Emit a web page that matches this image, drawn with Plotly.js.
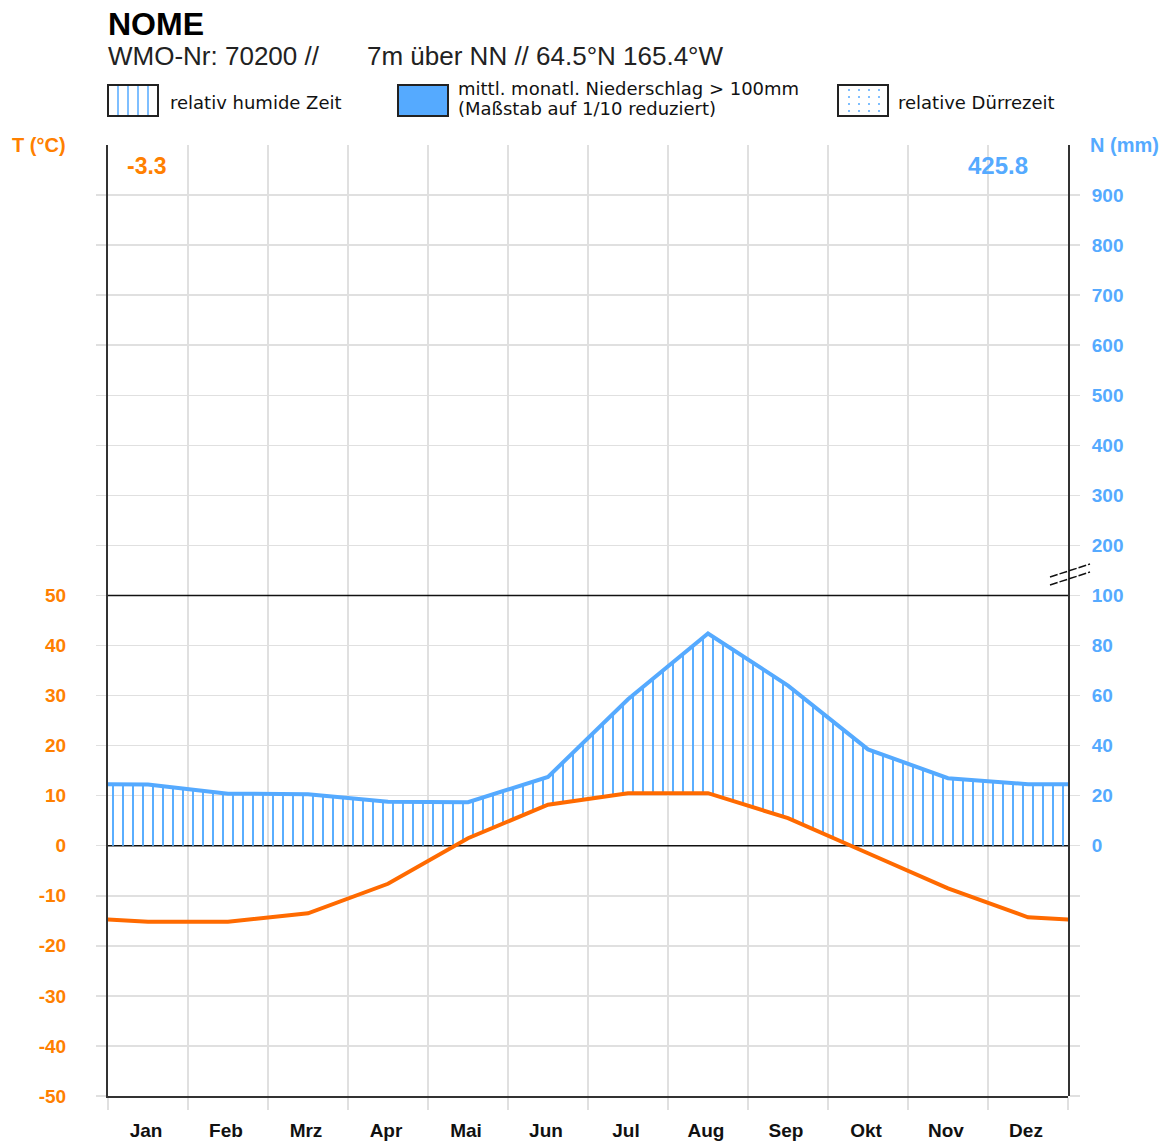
<!DOCTYPE html>
<html><head><meta charset="utf-8">
<script src="https://cdn.plot.ly/plotly-3.0.1.min.js"></script>
<style>html,body{margin:0;padding:0;background:#fff;} #chart{width:1173px;height:1144px;}</style>
</head><body><div id="chart"></div>
<script>
// ---------- data ----------
const months = ['Jan','Feb','Mrz','Apr','Mai','Jun','Jul','Aug','Sep','Okt','Nov','Dez'];
const monthPos = [1,2,3,4,5,6,7,8,9,10,11,12];
const temperature = [-15.2,-15.2,-13.5,-7.6,1.5,8.2,10.5,10.5,5.5,-1.5,-8.5,-14.3];   // °C
const precipitation = [24.5,20.8,20.6,17.6,17.4,27.5,58.5,84.8,64.0,38.5,27.0,24.6]; // mm
const tempTickVals = [-50,-40,-30,-20,-10,0,10,20,30,40,50];
const tempTickText = ['-50','-40','-30','-20','-10','0','10','20','30','40','50'];
const precipTickVals = [0,20,40,60,80,100,120,140,160,180,200,220,240,260];
const precipTickText = ['0','20','40','60','80','100','200','300','400','500','600','700','800','900'];
const meanTempText = '-3.3';
const annualPrecipText = '425.8';
const stationTitle = 'NOME';
const stationInfo1 = 'WMO-Nr: 70200 //';
const stationInfo2 = '7m über NN // 64.5°N 165.4°W';

// ---------- styling ----------
const ORANGE_LINE = '#FF6A00', ORANGE_TXT = '#FF8000';
const BLUE = '#55AAFF', GRID = '#E0E0E0', AXIS = '#333333';
const W = 1173, H = 1144, L = 108, R = 1068, TOP = 145, BOT = 1096;
const TMIN = -50, TMAX = 140;          // temperature display range
const MM_PER_DEG = 2;                  // Walter-Lieth ratio 10°C : 20mm
const px = x => (x - L) / (R - L);
const py = y => (BOT - y) / (BOT - TOP);

// circular wrap so the curves run to the plot edges
const xWrap = [monthPos[0] - 1, ...monthPos, monthPos[11] + 1];
const tWrap = [temperature[11], ...temperature, temperature[0]];
const pWrap = [precipitation[11], ...precipitation, precipitation[0]];

// grid helper values (layout only)
const gridT = []; for (let v = TMIN; v < TMAX; v += 10) gridT.push(v);
const leftText = gridT.map(v => { const i = tempTickVals.indexOf(v); return i >= 0 ? tempTickText[i] : ''; });
const gridP = []; for (let v = TMIN * MM_PER_DEG; v < TMAX * MM_PER_DEG; v += 20) gridP.push(v);
const rightText = gridP.map(v => { const i = precipTickVals.indexOf(v); return i >= 0 ? precipTickText[i] : ''; });
const bounds = [...monthPos.map(m => m - 0.5), monthPos[11] + 0.5];
const boundText = [...months, ''];

const traces = [
  // anchor trace for the grid subplot
  {x: [], y: [], xaxis: 'x', yaxis: 'y', mode: 'lines', showlegend: false, hoverinfo: 'skip'},
  // hatch: lower bound (temperature in mm-equivalent)
  {x: xWrap, y: tWrap.map(t => t * MM_PER_DEG), xaxis: 'x2', yaxis: 'y2', mode: 'lines',
   line: {width: 0}, showlegend: false, hoverinfo: 'skip'},
  // hatch: upper bound (precipitation) with vertical line pattern
  {x: xWrap, y: pWrap, xaxis: 'x2', yaxis: 'y2', mode: 'lines', line: {width: 0},
   fill: 'tonexty', fillcolor: 'rgba(0,0,0,0)',
   fillpattern: {shape: '|', size: 10, solidity: 0.2, fgcolor: '#5AAEFF', fgopacity: 1, fillmode: 'replace'},
   showlegend: false, hoverinfo: 'skip'},
  // temperature curve
  {x: xWrap, y: tWrap, xaxis: 'x2', yaxis: 'y3', mode: 'lines',
   line: {color: ORANGE_LINE, width: 4}, showlegend: false},
  // precipitation curve
  {x: xWrap, y: pWrap, xaxis: 'x2', yaxis: 'y4', mode: 'lines',
   line: {color: BLUE, width: 4}, showlegend: false}
];

const tickFont = (c) => ({family: 'Liberation Sans, Arial, sans-serif', size: 19, color: c, weight: 'bold'});

const layout = {
  width: W, height: H,
  margin: {l: L, r: W - R, t: TOP, b: H - BOT, pad: 0},
  paper_bgcolor: '#ffffff', plot_bgcolor: 'rgba(0,0,0,0)',
  showlegend: false,
  xaxis: {domain: [0, 1], range: [bounds[0], bounds[12]], anchor: 'y',
    tickmode: 'array', tickvals: bounds, ticktext: boundText, ticklabelshift: 38,
    ticks: 'outside', ticklen: 12, tickcolor: GRID, tickwidth: 1.5, ticklabelstandoff: 4,
    showgrid: true, gridcolor: GRID, gridwidth: 1.5, zeroline: false,
    showline: true, linecolor: AXIS, linewidth: 2,
    tickfont: {family: 'Liberation Sans, Arial, sans-serif', size: 19, color: '#111', weight: 'bold'}},
  xaxis2: {domain: [0, 1], range: [bounds[0], bounds[12]], anchor: 'y3', visible: false},
  yaxis: {domain: [0, 1], range: [TMIN, TMAX], anchor: 'x',
    tickmode: 'array', tickvals: gridT, ticktext: leftText,
    ticks: 'outside', ticklen: 10, tickcolor: GRID, tickwidth: 1.5, ticklabelstandoff: 26,
    showgrid: true, gridcolor: GRID, gridwidth: 1.5, zeroline: false,
    showline: true, linecolor: AXIS, linewidth: 2, tickfont: tickFont(ORANGE_TXT)},
  yaxis2: {domain: [(0 - TMIN) / (TMAX - TMIN), 1], range: [0, TMAX * MM_PER_DEG], anchor: 'x2', visible: false},
  yaxis3: {domain: [0, 1], range: [TMIN, TMAX], anchor: 'x2', visible: false},
  yaxis4: {overlaying: 'y3', side: 'right', anchor: 'x2', range: [TMIN * MM_PER_DEG, TMAX * MM_PER_DEG],
    tickmode: 'array', tickvals: gridP, ticktext: rightText,
    ticks: 'outside', ticklen: 10, tickcolor: GRID, tickwidth: 1.5, ticklabelstandoff: 8,
    showgrid: false, zeroline: false, showline: true, linecolor: AXIS, linewidth: 2,
    tickfont: tickFont(BLUE)},
  shapes: [
    {type: 'line', xref: 'x', yref: 'y', x0: bounds[0], x1: bounds[12], y0: 0, y1: 0,
     line: {color: '#111', width: 1.5}, layer: 'between'},
    {type: 'line', xref: 'x', yref: 'y', x0: bounds[0], x1: bounds[12], y0: 50, y1: 50,
     line: {color: '#111', width: 1.5}, layer: 'between'},
    // axis break marks
    {type: 'line', xref: 'paper', yref: 'paper', x0: px(1050), y0: py(577), x1: px(1090), y1: py(564),
     line: {color: '#111', width: 1.5, dash: '8px,2px'}},
    {type: 'line', xref: 'paper', yref: 'paper', x0: px(1050), y0: py(585), x1: px(1090), y1: py(572),
     line: {color: '#111', width: 1.5, dash: '8px,2px'}},
    // legend boxes
    {type: 'rect', xref: 'paper', yref: 'paper', x0: px(108), x1: px(158), y0: py(85), y1: py(116),
     line: {color: '#222', width: 2}, fillcolor: '#fff'},
    ...[118, 128, 138, 148].map(x => ({type: 'line', xref: 'paper', yref: 'paper', x0: px(x), x1: px(x),
     y0: py(86), y1: py(115), line: {color: BLUE, width: 1.5}})),
    {type: 'rect', xref: 'paper', yref: 'paper', x0: px(398), x1: px(448), y0: py(85), y1: py(116),
     line: {color: '#222', width: 2}, fillcolor: BLUE},
    {type: 'rect', xref: 'paper', yref: 'paper', x0: px(838), x1: px(888), y0: py(85), y1: py(116),
     line: {color: '#222', width: 2}, fillcolor: '#fff'},
    ...[849, 859, 869, 879].map(x => ({type: 'line', xref: 'paper', yref: 'paper', x0: px(x), x1: px(x),
     y0: py(89), y1: py(114), line: {color: BLUE, width: 1.5, dash: '2px,5px'}}))
  ],
  annotations: [
    {text: stationTitle, x: px(106), y: py(24), xanchor: 'left', yanchor: 'middle',
     font: {family: 'Liberation Sans, Arial, sans-serif', size: 32, color: '#000', weight: 'bold'}},
    {text: stationInfo1, x: px(106), y: py(56), xanchor: 'left', yanchor: 'middle',
     font: {family: 'Liberation Sans, Arial, sans-serif', size: 26, color: '#222'}},
    {text: stationInfo2, x: px(365), y: py(56), xanchor: 'left', yanchor: 'middle',
     font: {family: 'Liberation Sans, Arial, sans-serif', size: 26, color: '#222'}},
    {text: 'relativ humide Zeit', x: px(168), y: py(102), xanchor: 'left', yanchor: 'middle',
     font: {family: 'DejaVu Sans, sans-serif', size: 18, color: '#111'}},
    {text: 'mittl. monatl. Niederschlag > 100mm', x: px(456), y: py(89), xanchor: 'left', yanchor: 'middle',
     font: {family: 'DejaVu Sans, sans-serif', size: 18, color: '#111'}},
    {text: '(Maßstab auf 1/10 reduziert)', x: px(456), y: py(108), xanchor: 'left', yanchor: 'middle',
     font: {family: 'DejaVu Sans, sans-serif', size: 18, color: '#111'}},
    {text: 'relative Dürrezeit', x: px(896), y: py(102), xanchor: 'left', yanchor: 'middle',
     font: {family: 'DejaVu Sans, sans-serif', size: 18, color: '#111'}},
    {text: 'T (°C)', x: px(10), y: py(145), xanchor: 'left', yanchor: 'middle',
     font: {family: 'Liberation Sans, Arial, sans-serif', size: 20, color: ORANGE_TXT, weight: 'bold'}},
    {text: 'N (mm)', x: px(1088), y: py(145), xanchor: 'left', yanchor: 'middle',
     font: {family: 'Liberation Sans, Arial, sans-serif', size: 20, color: BLUE, weight: 'bold'}},
    {text: meanTempText, x: px(125), y: py(166), xanchor: 'left', yanchor: 'middle',
     font: {family: 'Liberation Sans, Arial, sans-serif', size: 23, color: ORANGE_TXT, weight: 'bold'}},
    {text: annualPrecipText, x: px(1030), y: py(166), xanchor: 'right', yanchor: 'middle',
     font: {family: 'Liberation Sans, Arial, sans-serif', size: 24, color: BLUE, weight: 'bold'}}
  ].map(a => Object.assign({xref: 'paper', yref: 'paper', showarrow: false}, a))
};

Plotly.newPlot('chart', traces, layout, {staticPlot: true, displayModeBar: false});
</script></body></html>
